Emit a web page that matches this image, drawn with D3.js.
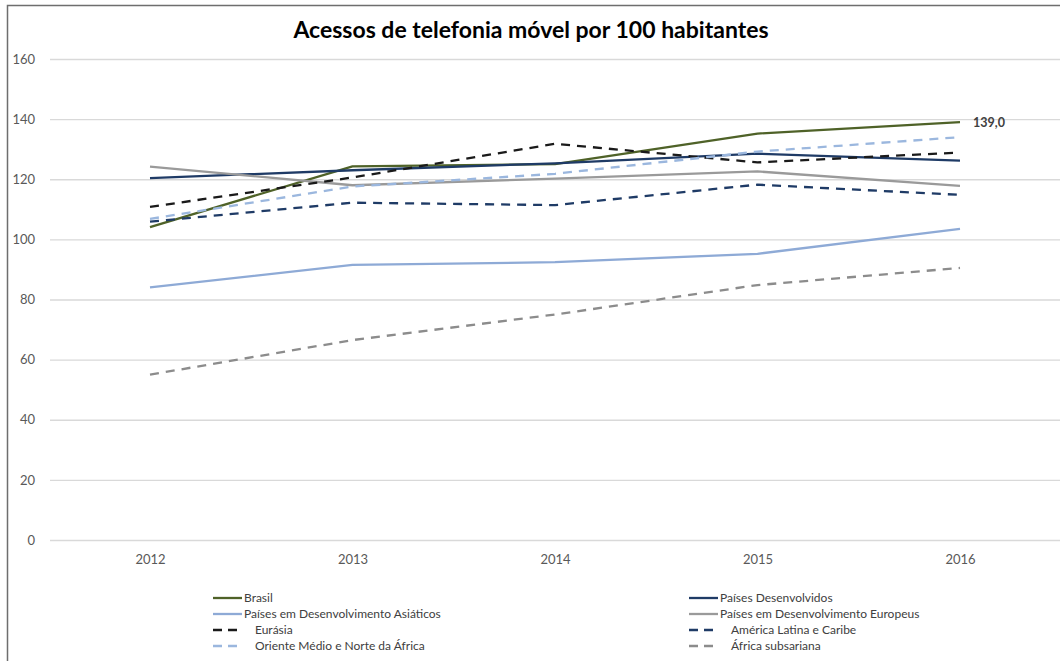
<!DOCTYPE html>
<html>
<head>
<meta charset="utf-8">
<script src="https://cdn.jsdelivr.net/npm/d3@7"></script>
<style>
  html, body { margin: 0; padding: 0; background: #fff; }
  svg { display: block; font-family: Lato, "Open Sans", sans-serif; }
</style>
</head>
<body>
<svg id="chart" width="1060" height="661"></svg>
<script>
// Anos (eixo X)
const years = ["2012", "2013", "2014", "2015", "2016"];
// Marcas do eixo Y
const yTicks = [0, 20, 40, 60, 80, 100, 120, 140, 160];

// Acessos por 100 habitantes, por região
const brasil        = [104.1, 124.3, 125.0, 135.2, 139.0];
const desenvolvidos = [120.4, 123.0, 125.3, 128.5, 126.2];
const asiaticos     = [84.0, 91.5, 92.4, 95.2, 103.5];
const europeus      = [124.2, 118.0, 120.2, 122.6, 117.8];
const eurasia       = [110.8, 120.6, 131.8, 125.6, 128.9];
const americaLatina = [105.9, 112.2, 111.4, 118.2, 114.8];
const orienteMedio  = [106.8, 117.6, 121.8, 129.2, 134.0];
const africaSub     = [55.0, 66.5, 75.0, 84.8, 90.5];

const seriesNames = [
  "Brasil", "Países Desenvolvidos",
  "Países em Desenvolvimento Asiáticos", "Países em Desenvolvimento Europeus",
  "Eurásia", "América Latina e Caribe",
  "Oriente Médio e Norte da África", "África subsariana"
];
const seriesValues = [brasil, desenvolvidos, asiaticos, europeus,
                      eurasia, americaLatina, orienteMedio, africaSub];
const seriesColors = ["#4f6228", "#1f3b66", "#8eaad6", "#9a9a9a",
                      "#1a1a1a", "#1f3b66", "#9bb7de", "#8c8c8c"];
const seriesDashed = [false, false, false, false, true, true, true, true];

const series = seriesNames.map((name, i) => ({
  name, values: seriesValues[i], color: seriesColors[i], dashed: seriesDashed[i]
}));

const svg = d3.select("#chart");

// Moldura
svg.append("path")
  .attr("d", "M7.5,668 V5.5 H1068")
  .attr("fill", "none")
  .attr("stroke", "#6e6e6e")
  .attr("stroke-width", 1.5);

// Título
svg.append("text")
  .attr("x", 531).attr("y", 38)
  .attr("text-anchor", "middle")
  .attr("font-size", 23).attr("font-weight", 700)
  .attr("fill", "#000")
  .text("Acessos de telefonia móvel por 100 habitantes");

const x = d3.scalePoint().domain(years).range([150, 960]);
const y = d3.scaleLinear().domain([0, 160]).range([540, 59]);

// Linhas de grade e rótulos do eixo Y
const yAxis = d3.axisLeft(y).tickValues(yTicks).tickSize(-1012).tickPadding(15);
const gy = svg.append("g").attr("transform", "translate(50,0)").call(yAxis);
gy.select(".domain").remove();
gy.selectAll(".tick line").attr("stroke", "#d9d9d9").attr("stroke-width", 1.3);
gy.selectAll(".tick text").attr("font-size", 13).attr("fill", "#595959")
  .attr("font-family", "Lato, sans-serif");

// Rótulos do eixo X
const xAxis = d3.axisBottom(x).tickSize(0).tickPadding(15);
const gx = svg.append("g").attr("transform", "translate(0,540)").call(xAxis);
gx.select(".domain").remove();
gx.selectAll(".tick text").attr("font-size", 13).attr("fill", "#595959")
  .attr("font-family", "Lato, sans-serif");

// Séries
const line = d3.line().x((d, i) => x(years[i])).y(d => y(d));
svg.append("g").selectAll("path")
  .data(series)
  .join("path")
  .attr("d", d => line(d.values))
  .attr("fill", "none")
  .attr("stroke", d => d.color)
  .attr("stroke-width", 2.3)
  .attr("stroke-linejoin", "round")
  .attr("stroke-dasharray", d => d.dashed ? "9,7" : null);

// Rótulo do último valor do Brasil
svg.append("text")
  .attr("x", x("2016") + 13).attr("y", y(brasil[4]) + 5)
  .attr("font-size", 12.5).attr("font-weight", 700).attr("fill", "#404040")
  .text(d3.format(".1f")(brasil[4]).replace(".", ","));

// Legenda
const legend = svg.append("g");
const legItems = legend.selectAll("g")
  .data(series)
  .join("g")
  .attr("transform", (d, i) => {
    const col = i % 2, row = Math.floor(i / 2);
    return `translate(${col === 0 ? 213 : 689},${598 + row * 16})`;
  });
legItems.append("line")
  .attr("x1", 0).attr("x2", 29).attr("y1", 0).attr("y2", 0)
  .attr("stroke", d => d.color).attr("stroke-width", 2.3)
  .attr("stroke-dasharray", d => d.dashed ? "9,6" : null);
legItems.append("text")
  .attr("x", d => d.dashed ? 42 : 31).attr("y", 4)
  .attr("font-size", 12).attr("fill", "#404040")
  .text(d => d.name);
</script>
</body>
</html>
